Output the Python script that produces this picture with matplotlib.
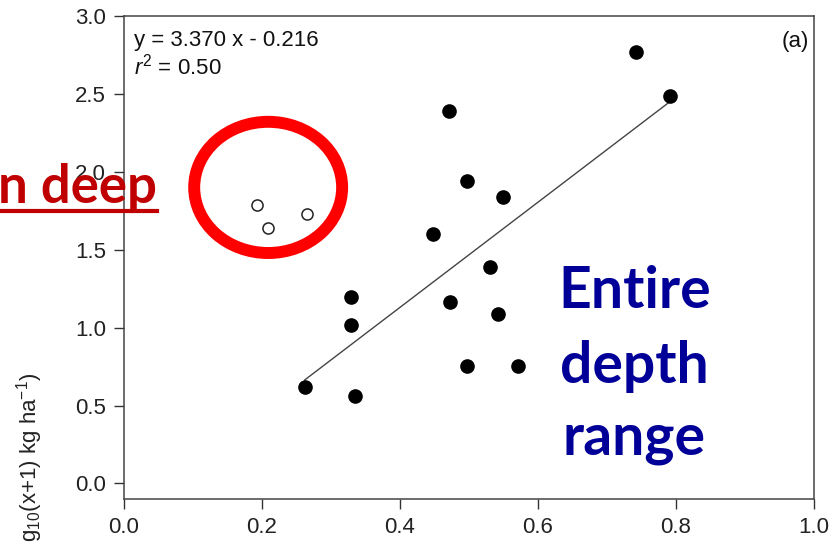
import numpy as np
import matplotlib
matplotlib.use("Agg")
import matplotlib.pyplot as plt
from matplotlib.patches import Ellipse
from matplotlib.lines import Line2D

plt.rcParams['font.family'] = ['Liberation Sans', 'DejaVu Sans']
plt.rcParams['mathtext.fontset'] = 'custom'
plt.rcParams['mathtext.rm'] = 'Liberation Sans'
plt.rcParams['mathtext.it'] = 'Liberation Sans:italic'

# entire depth range (filled points)
x_all = [0.742, 0.791, 0.471, 0.497, 0.549, 0.448, 0.530, 0.329, 0.329,
         0.262, 0.335, 0.472, 0.542, 0.497, 0.571]
y_all = [2.769, 2.486, 2.390, 1.940, 1.837, 1.600, 1.388, 1.195, 1.015,
         0.617, 0.559, 1.163, 1.086, 0.752, 0.752]

# deep only (open points)
x_deep = [0.193, 0.209, 0.265]
y_deep = [1.790, 1.640, 1.730]

slope, intercept, r2 = 3.370, -0.216, 0.50

xticks = [0.0, 0.2, 0.4, 0.6, 0.8, 1.0]
yticks = [0.0, 0.5, 1.0, 1.5, 2.0, 2.5, 3.0]

fig = plt.figure(figsize=(8.38, 5.43), dpi=100)
ax = fig.add_axes([0.148, 0.081, 0.823, 0.8895])

# regression line over the range of the filled points
fit = np.polyfit(x_all, y_all, 1)
lx = np.array([min(x_all), max(x_all)])
ax.plot(lx, np.polyval(fit, lx), '-', color='#444444', lw=1.0, zorder=2)

ax.plot(x_all, y_all, 'o', color='black', ms=9.5, zorder=3)
ax.plot(x_deep, y_deep, 'o', mfc='white', mec='#222222', mew=1.1, ms=8, zorder=3)

ax.set_xlim(0, 1.0)
ax.set_ylim(-0.1, 3.0)
ax.set_xticks(xticks)
ax.set_yticks(yticks)
ax.set_xticklabels(['%.1f' % v for v in xticks])
ax.set_yticklabels(['%.1f' % v for v in yticks])
ax.tick_params(direction='out', length=7, width=1, color='#333333',
               labelsize=16, labelcolor='#222222', pad=6)
for s in ax.spines.values():
    s.set_color('#444444')
    s.set_linewidth(1.1)

# equation and panel label
ax.text(0.0145, 0.938, 'y = %.3f x - %.3f' % (slope, -intercept),
        transform=ax.transAxes, fontsize=16, va='baseline', color='#111111')
ax.text(0.0145, 0.878, '$r^2$ = %.2f' % r2,
        transform=ax.transAxes, fontsize=16, va='baseline', color='#111111')
ax.text(0.993, 0.936, '(a)', transform=ax.transAxes, fontsize=16,
        ha='right', va='baseline', color='#111111')

# red highlight around the open points
ax.add_patch(Ellipse((0.209, 1.90), 0.2145, 0.842, fill=False,
                     ec='#ff0000', lw=8.6, clip_on=False, zorder=4))

# blue annotation
for word, yb in zip(['Entire', 'depth', 'range'], [1.126, 0.645, 0.183]):
    ax.text(0.74, yb, word, fontsize=41, fontweight='bold', family='Lato',
            color='#000099', ha='center', va='baseline')

# partial red label on the left, underlined
fig.text(157 / 838, 1 - 203 / 543, 'n deep', fontsize=38, fontweight='bold',
         family='Lato', color='#c00000', ha='right', va='baseline')
fig.add_artist(Line2D([0, 157 / 838], [1 - 211 / 543] * 2, color='#c00000',
                      lw=3, transform=fig.transFigure))

# y label, runs off the bottom edge
fig.text(30 / 838, 1 - 373 / 543, 'log$_{10}$(x+1) kg ha$^{-1}$)',
         rotation=90, fontsize=16, ha='center', va='top', color='#222222')

fig.savefig('out.png', dpi=100)
